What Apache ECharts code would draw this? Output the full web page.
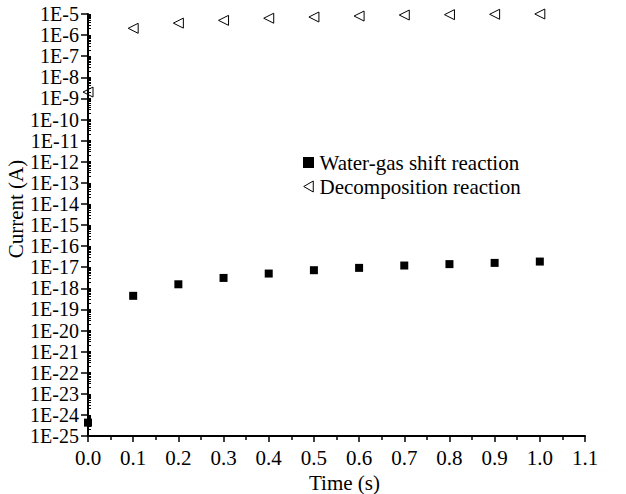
<!DOCTYPE html>
<html>
<head>
<meta charset="utf-8">
<script src="https://cdn.jsdelivr.net/npm/echarts@6/dist/echarts.min.js"></script>
<style>
  html, body { margin: 0; padding: 0; background: #fff; }
  #chart { width: 626px; height: 494px; }
</style>
</head>
<body>
<div id="chart"></div>
<script>
// Sampling times (s)
const times = [0.0, 0.1, 0.2, 0.3, 0.4, 0.5, 0.6, 0.7, 0.8, 0.9, 1.0];
// Current (A) for each reaction path
const waterGasShift = [4.3e-25, 4.4e-19, 1.55e-18, 3.1e-18, 5.0e-18, 7.2e-18, 9.3e-18, 1.2e-17, 1.4e-17, 1.6e-17, 1.85e-17];
const decomposition = [2.0e-9, 2.1e-6, 3.7e-6, 5.0e-6, 6.3e-6, 7.2e-6, 8.0e-6, 8.95e-6, 9.3e-6, 9.7e-6, 1.0e-5];
const seriesNames = ['Water-gas shift reaction', 'Decomposition reaction'];
// Decade range of the current axis (powers of ten)
const expMin = -25, expMax = -5;

const font = 'Liberation Serif, Times New Roman, serif';
const fs = 21;
// The current axis is a log10 axis: values are placed by their exponent.
const pair = (xs, ys) => xs.map((x, i) => [x, Math.log10(ys[i])]);

// Log-spaced minor ticks (2..9 x 10^n) inside each decade
const minorExp = [];
for (let e = expMin; e < expMax; e++) {
  for (let k = 2; k <= 9; k++) minorExp.push(e + Math.log10(k));
}
const majorExp = [];
for (let e = expMin; e <= expMax; e++) majorExp.push(e);

const yBase = { type: 'value', min: expMin, max: expMax, interval: 1, splitLine: { show: false } };
const leftTriangle = 'path://M0,5L8.66,0L8.66,10Z';
const square = 'path://M0,0H10V10H0Z';

const chart = echarts.init(document.getElementById('chart'), null, { renderer: 'svg' });
chart.setOption({
  animation: false,
  backgroundColor: '#fff',
  grid: { left: 88, right: 41, top: 14, bottom: 58, containLabel: false, outerBoundsMode: 'none' },
  legend: {
    left: 298, top: 147, orient: 'vertical', itemGap: 3,
    itemWidth: 12, itemHeight: 11,
    textStyle: { fontFamily: font, fontSize: fs, color: '#000' },
    data: [
      { name: seriesNames[0], icon: square, itemStyle: { color: '#000', opacity: 1 } },
      { name: seriesNames[1], icon: leftTriangle, itemStyle: { color: '#fff', borderColor: '#000', borderWidth: 1 } }
    ]
  },
  xAxis: {
    type: 'value', min: 0, max: 1.1, interval: 0.1,
    name: 'Time (s)', nameLocation: 'middle', nameGap: 36, nameMoveOverlap: false,
    nameTextStyle: { fontFamily: font, fontSize: fs, color: '#000', padding: [0, 0, 0, 16] },
    axisLine: { lineStyle: { color: '#000', width: 2 } },
    axisTick: { length: 6, lineStyle: { color: '#000', width: 1.5 } },
    minorTick: { show: true, splitNumber: 2, length: 4, lineStyle: { color: '#000', width: 1.5 } },
    axisLabel: { fontFamily: font, fontSize: fs, color: '#000', margin: 11,
      formatter: v => v.toFixed(1) },
    splitLine: { show: false }
  },
  yAxis: [
    Object.assign({}, yBase, {
      name: 'Current (A)', nameLocation: 'middle', nameGap: 62, nameMoveOverlap: false,
      nameTextStyle: { fontFamily: font, fontSize: fs, color: '#000', padding: [0, 0, 0, 32] },
      axisLine: { lineStyle: { color: '#000', width: 2 } },
      axisTick: { length: 7, lineStyle: { color: '#000', width: 1.5 } },
      axisLabel: { fontFamily: font, fontSize: 20, color: '#000', margin: 9,
        formatter: v => '1E' + v }
    }),
    Object.assign({}, yBase, {
      position: 'left',
      axisLine: { show: false },
      axisLabel: { show: false },
      axisTick: { inside: true, length: 3, customValues: majorExp.concat(minorExp),
        lineStyle: { color: '#000', width: 1 } }
    })
  ],
  series: [
    {
      name: seriesNames[0], type: 'scatter', data: pair(times, waterGasShift),
      symbol: 'rect', symbolSize: 8, itemStyle: { color: '#000', opacity: 1 }, z: 3
    },
    {
      name: seriesNames[1], type: 'scatter', data: pair(times, decomposition),
      symbol: 'triangle', symbolSize: 10, symbolRotate: 90,
      itemStyle: { color: 'rgba(255,255,255,0)', borderColor: '#000', borderWidth: 1, opacity: 1 }, z: 1
    }
  ]
});
</script>
</body>
</html>
